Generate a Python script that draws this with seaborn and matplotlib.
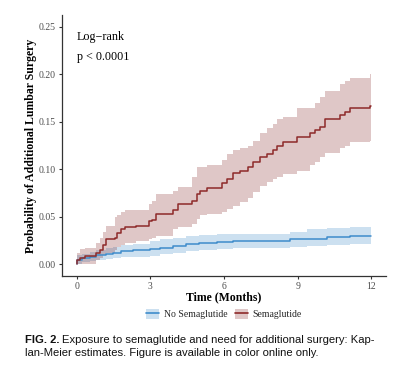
import numpy as np
import pandas as pd
import matplotlib
matplotlib.use("Agg")
import matplotlib.pyplot as plt
import seaborn as sns
from matplotlib.patches import Patch
from matplotlib.lines import Line2D

# Semaglutide (red) step curve with 95% CI
red_t = [0, 0.03, 0.12, 0.33, 0.8, 0.94, 1.07, 1.2, 1.55, 1.65, 1.8, 1.96, 2.43, 2.94, 3.05,
         3.25, 3.93, 4.14, 4.68, 4.88, 5.02, 5.29, 5.9, 6.11, 6.38, 6.65, 6.99, 7.2, 7.47,
         7.74, 8.0, 8.15, 8.42, 8.97, 9.51, 9.71, 9.92, 10.12, 10.73, 10.94, 11.14, 11.96, 12.0]
red_est = [0, 0.004, 0.0067, 0.0084, 0.012, 0.015, 0.02, 0.026, 0.028, 0.033, 0.037, 0.0386,
           0.04, 0.045, 0.047, 0.053, 0.0575, 0.063, 0.067, 0.074, 0.077, 0.080, 0.085, 0.09,
           0.0955, 0.098, 0.102, 0.108, 0.113, 0.1165, 0.120, 0.125, 0.129, 0.134, 0.138,
           0.141, 0.145, 0.153, 0.157, 0.160, 0.164, 0.1665, 0.1665]
red_up = [0, 0.012, 0.016, 0.017, 0.022, 0.028, 0.034, 0.04, 0.05, 0.052, 0.055, 0.057, 0.057,
          0.063, 0.066, 0.074, 0.077, 0.081, 0.092, 0.102, 0.102, 0.104, 0.11, 0.1165, 0.12,
          0.122, 0.125, 0.13, 0.138, 0.143, 0.148, 0.153, 0.155, 0.164, 0.165, 0.17, 0.176,
          0.182, 0.19, 0.193, 0.1965, 0.2, 0.2]
red_lo = [0, 0.0, 0.0, 0.0, 0.004, 0.006, 0.0095, 0.012, 0.015, 0.018, 0.02, 0.022, 0.0245,
          0.027, 0.028, 0.0295, 0.0375, 0.039, 0.042, 0.048, 0.0515, 0.053, 0.055, 0.058,
          0.061, 0.0655, 0.07, 0.076, 0.082, 0.0866, 0.09, 0.092, 0.095, 0.098, 0.104, 0.108,
          0.113, 0.117, 0.122, 0.125, 0.129, 0.130, 0.130]

# No Semaglutide (blue)
blue_t = [0, 0.03, 0.2, 0.53, 0.8, 1.2, 1.48, 1.82, 2.3, 3.0, 3.4, 3.93, 4.47, 5.0, 5.7, 6.38,
          8.7, 9.37, 10.2, 11.14, 12.0]
blue_est = [0, 0.004, 0.006, 0.0077, 0.0095, 0.011, 0.012, 0.0137, 0.0147, 0.0158, 0.0175,
            0.019, 0.0207, 0.0225, 0.0235, 0.0245, 0.026, 0.027, 0.0287, 0.0295, 0.030]
blue_up = [0, 0.01, 0.011, 0.013, 0.015, 0.017, 0.018, 0.02, 0.021, 0.024, 0.026, 0.028, 0.03,
           0.031, 0.0315, 0.032, 0.034, 0.0365, 0.038, 0.039, 0.039]
blue_lo = [0, 0.0, 0.002, 0.003, 0.004, 0.005, 0.006, 0.0075, 0.008, 0.009, 0.0105, 0.012,
           0.0135, 0.015, 0.016, 0.0165, 0.018, 0.019, 0.020, 0.021, 0.021]

groups = ["No Semaglutide", "Semaglutide"]
line_colors = {"No Semaglutide": "#3F8CCB", "Semaglutide": "#8E2A2A"}
band_colors = {"No Semaglutide": "#3787C7", "Semaglutide": "#832323"}

km = pd.concat([
    pd.DataFrame({"time": blue_t, "prob": blue_est, "lo": blue_lo, "up": blue_up, "group": groups[0]}),
    pd.DataFrame({"time": red_t, "prob": red_est, "lo": red_lo, "up": red_up, "group": groups[1]}),
])

sns.set_theme(style="white")
serif = ["Liberation Serif", "DejaVu Serif"]
plt.rcParams["font.family"] = serif

fig = plt.figure(figsize=(4.10, 3.83), dpi=100)
ax = fig.add_axes([0.1512, 0.2794, 0.7903, 0.6814])

for g in groups:
    d = km[km["group"] == g]
    ax.fill_between(d["time"], d["lo"], d["up"], step="post",
                    color=band_colors[g], alpha=0.25, linewidth=0)

sns.lineplot(data=km, x="time", y="prob", hue="group", palette=line_colors,
             estimator=None, sort=False, drawstyle="steps-post", linewidth=1.1,
             legend=False, ax=ax)

ax.set_xlim(-0.6, 12.6)
ax.set_ylim(-0.0125, 0.2625)
ax.set_xticks([0, 3, 6, 9, 12])
ax.set_yticks([0, 0.05, 0.10, 0.15, 0.20, 0.25])
ax.set_yticklabels(["0.00", "0.05", "0.10", "0.15", "0.20", "0.25"])
ax.tick_params(axis="both", which="both", direction="out", length=2.5, width=0.8,
               colors="#333333", labelcolor="#4D4D4D", labelsize=7, pad=2,
               bottom=True, left=True)
for s in ["top", "right"]:
    ax.spines[s].set_visible(False)
for s in ["left", "bottom"]:
    ax.spines[s].set_color("#333333")
    ax.spines[s].set_linewidth(0.9)

ax.set_xlabel("Time (Months)", fontsize=8.5, fontweight="bold", color="black", labelpad=0)
ax.set_ylabel("Probability of Additional Lumbar Surgery", fontsize=8.5,
              fontweight="bold", color="black", labelpad=1.5)

ax.text(0, 0.239, "Log\u2212rank", fontsize=8.7, va="center", ha="left", color="black")
ax.text(0, 0.218, "p < 0.0001", fontsize=8.7, va="center", ha="left", color="black")

handles = []
for g in groups:
    handles.append((Patch(facecolor=band_colors[g], alpha=0.25, edgecolor="none"),
                    Line2D([], [], color=line_colors[g], linewidth=1.2)))
fig.legend(handles, groups, loc="center", bbox_to_anchor=(224 / 410, 1 - 314 / 383),
           ncol=2, frameon=False, fontsize=7, handlelength=1.3, handleheight=1.3,
           handletextpad=0.5, columnspacing=0.8)

# caption
cap_font = ["Liberation Sans", "DejaVu Sans"]
t1 = fig.text(25 / 410, 1 - 340 / 383, "FIG. 2.", family=cap_font, fontweight="bold",
              fontsize=8.15, va="center", ha="left", color="#111111")
fig.canvas.draw()
bb = t1.get_window_extent()
fig.text(bb.x1 / fig.bbox.width + 3 / 410, 1 - 340 / 383,
         "Exposure to semaglutide and need for additional surgery: Kap-",
         family=cap_font, fontsize=8.15, va="center", ha="left", color="#111111")
fig.text(25 / 410, 1 - 353 / 383,
         "lan-Meier estimates. Figure is available in color online only.",
         family=cap_font, fontsize=8.15, va="center", ha="left", color="#111111")

fig.savefig("out.png", dpi=100)
